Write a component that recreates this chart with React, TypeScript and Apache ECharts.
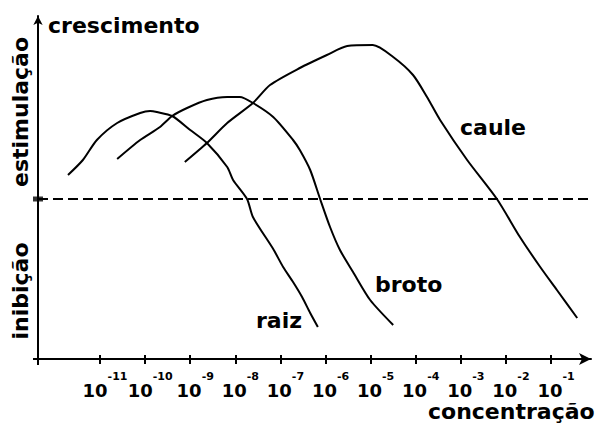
import React, { useEffect, useRef } from "react";
import * as echarts from "echarts";

// x = log10 of concentration, y = growth effect (0 = no effect; + stimulation, - inhibition)
const tickExponents = [-11, -10, -9, -8, -7, -6, -5, -4, -3, -2, -1];

const raiz: [number, number][] = [
  [-11.71, 24], [-11.38, 39], [-11.07, 59], [-10.62, 76], [-10.11, 86], [-9.89, 88],
  [-9.74, 87], [-9.4, 83], [-9.0, 69], [-8.63, 56], [-8.18, 32], [-8.05, 19],
  [-7.74, 0], [-7.61, -18], [-7.16, -50], [-6.94, -68], [-6.72, -83],
  [-6.52, -98], [-6.34, -114], [-6.17, -128],
];

const broto: [number, number][] = [
  [-10.62, 40], [-10.11, 59], [-9.67, 72], [-9.4, 83], [-9.07, 91], [-8.63, 99],
  [-8.18, 102], [-7.9, 102], [-7.61, 96], [-7.16, 82], [-6.72, 59], [-6.57, 49],
  [-6.34, 29], [-6.12, 0], [-5.9, -28], [-5.68, -51], [-5.39, -73], [-5.01, -101],
  [-4.5, -126],
];

const caule: [number, number][] = [
  [-9.12, 37], [-8.63, 56], [-8.18, 76], [-7.61, 96], [-7.23, 114], [-6.57, 131],
  [-5.97, 144], [-5.52, 153], [-4.95, 154], [-4.5, 142], [-4.06, 124], [-3.75, 102],
  [-3.46, 79], [-2.86, 39], [-2.2, 0], [-1.69, -38], [-1.24, -68], [-0.87, -91],
  [-0.42, -119],
];

const X_MIN = -12.375;
const X_MAX = -0.114;
const Y_MIN = -160;
const Y_MAX = 183;
const DASH_END = -0.135;

const FONT = '"DejaVu Sans", sans-serif';
const BIG = `bold 22px ${FONT}`;

export default function App() {
  const ref = useRef<HTMLDivElement>(null);
  useEffect(() => {
    if (!ref.current) return;
    const chart = echarts.init(ref.current, null, { renderer: "svg" });
    const lineSeries = (name: string, data: [number, number][]) => ({
      name,
      type: "line",
      data,
      xAxisIndex: 0,
      yAxisIndex: 0,
      symbol: "none",
      smooth: 0.25,
      silent: true,
      lineStyle: { color: "#000", width: 2 },
    });
    chart.setOption({
      animation: false,
      backgroundColor: "#fff",
      grid: { left: 38, right: 7, top: 16, bottom: 66 },
      xAxis: [
        {
          type: "value",
          min: X_MIN,
          max: X_MAX,
          splitLine: { show: false },
          minorTick: { show: false },
          axisLine: {
            show: true,
            onZero: false,
            symbol: ["none", "arrow"],
            symbolSize: [9, 12],
            lineStyle: { color: "#000", width: 2 },
          },
          axisTick: {
            show: true,
            customValues: tickExponents,
            length: 5,
            lineStyle: { color: "#000", width: 2 },
          },
          axisLabel: {
            customValues: tickExponents,
            margin: 12,
            padding: [0, 0, 0, 10],
            color: "#000",
            formatter: (v: number) => `{b|10}{s|${v}}`,
            rich: {
              b: {
                fontSize: 18,
                fontWeight: "bold",
                fontFamily: FONT,
                color: "#000",
                lineHeight: 28,
                verticalAlign: "bottom",
              },
              s: {
                fontSize: 11,
                fontWeight: "bold",
                fontFamily: FONT,
                color: "#000",
                lineHeight: 11,
                verticalAlign: "top",
              },
            },
          },
        },
        {
          type: "value",
          min: X_MIN,
          max: X_MAX,
          position: "bottom",
          splitLine: { show: false },
          minorTick: { show: false },
          axisLine: { show: false, onZero: false },
          axisLabel: { show: false },
          axisTick: {
            show: true,
            inside: true,
            customValues: tickExponents,
            length: 4,
            lineStyle: { color: "#000", width: 2 },
          },
        },
      ],
      yAxis: {
        type: "value",
        min: Y_MIN,
        max: Y_MAX,
        splitLine: { show: false },
        minorTick: { show: false },
        axisTick: { show: false },
        axisLabel: { show: false },
        axisLine: {
          show: true,
          onZero: false,
          symbol: ["none", "arrow"],
          symbolSize: [7, 9],
          lineStyle: { color: "#000", width: 2 },
        },
      },
      series: [
        {
          ...lineSeries("raiz", raiz),
          markLine: {
            silent: true,
            symbol: ["none", "none"],
            label: { show: false },
            lineStyle: { color: "#000", width: 2, type: [10, 5] },
            data: [[{ coord: [X_MIN, 0] }, { coord: [DASH_END, 0] }]],
          },
        },
        lineSeries("broto", broto),
        lineSeries("caule", caule),
        {
          type: "scatter",
          data: [[X_MIN, 0]],
          symbol: "rect",
          symbolSize: [10, 5],
          itemStyle: { color: "#000" },
          clip: false,
          silent: true,
        },
      ],
      graphic: [
        { type: "line", shape: { x1: 38, y1: 359, x2: 38, y2: 365 }, style: { stroke: "#000", lineWidth: 2 }, silent: true },
        { type: "line", shape: { x1: 33, y1: 359, x2: 38, y2: 359 }, style: { stroke: "#000", lineWidth: 2 }, silent: true },
        { type: "text", x: 48, y: 25, style: { text: "crescimento", font: BIG, fill: "#000", align: "left", verticalAlign: "middle" } },
        { type: "text", x: 20, y: 112, rotation: Math.PI / 2, style: { text: "estimulação", font: BIG, fill: "#000", align: "center", verticalAlign: "middle" } },
        { type: "text", x: 20, y: 291, rotation: Math.PI / 2, style: { text: "inibição", font: BIG, fill: "#000", align: "center", verticalAlign: "middle" } },
        { type: "text", x: 460, y: 127, style: { text: "caule", font: BIG, fill: "#000", align: "left", verticalAlign: "middle" } },
        { type: "text", x: 375, y: 284, style: { text: "broto", font: BIG, fill: "#000", align: "left", verticalAlign: "middle" } },
        { type: "text", x: 256, y: 320, style: { text: "raiz", font: BIG, fill: "#000", align: "left", verticalAlign: "middle" } },
        { type: "text", x: 428, y: 411, style: { text: "concentração", font: BIG, fill: "#000", align: "left", verticalAlign: "middle" } },
      ],
    });
    return () => chart.dispose();
  }, []);
  return <div ref={ref} style={{ width: 598, height: 425, position: "absolute", left: 0, top: 0 }} />;
}
